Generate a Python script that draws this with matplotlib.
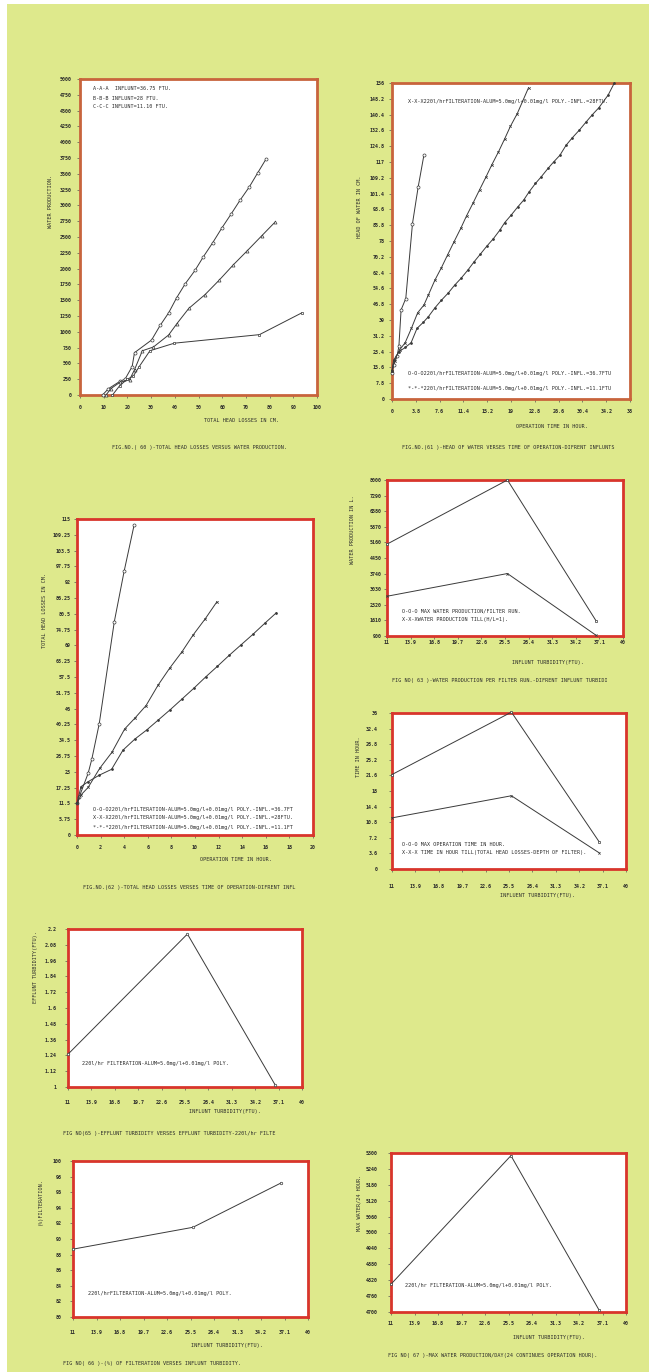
import numpy as np
import matplotlib
matplotlib.use('Agg')
import matplotlib.pyplot as plt
from matplotlib.patches import Rectangle

# --- fig 60: total head losses vs water production
hl_a = [9.5, 12, 17, 19, 22, 23, 30.2, 33.8, 37.4, 40.8, 44.4, 48.5, 52.1, 56, 59.8, 63.7, 67.5, 71.4, 74.9, 78.6]
wp_a = [0, 100, 220, 250, 450, 670, 870, 1100, 1300, 1540, 1760, 1970, 2190, 2410, 2640, 2860, 3080, 3290, 3510, 3740]
hl_b = [11, 13, 16.8, 20.9, 23, 26.3, 31, 37.4, 40.9, 45.9, 52.8, 58.8, 64.7, 70.5, 76.7, 82.4]
wp_b = [0, 100, 200, 240, 400, 700, 760, 950, 1130, 1370, 1590, 1820, 2060, 2280, 2520, 2740]
hl_c = [13.7, 16.8, 20, 22.5, 25, 29.5, 39.8, 75.7, 93.6]
wp_c = [0, 150, 250, 300, 450, 700, 820, 955, 1300]

# --- fig 61: head of water vs operation time
t61_1 = [0, 0.3, 0.8, 1.1, 1.45, 2.2, 3.27, 4.18, 5.09]
h61_1 = [13, 17, 21, 26, 44, 49.6, 86.6, 104.7, 120.3]
t61_2 = [0, 0.4, 1.2, 2.1, 3.1, 4.1, 5.1, 5.8, 6.85, 7.9, 8.9, 9.9, 10.97, 11.9, 12.95, 14.0, 15.0,
         15.95, 17.0, 18.0, 18.9, 20.0, 21.8]
h61_2 = [14, 19, 24.2, 27.8, 34.9, 42.6, 46.4, 51.3, 58.7, 64.9, 71.3, 77.6, 84.2, 90.4, 96.8, 103.4, 109.6,
         115.7, 122, 128.5, 134.6, 140.9, 153.7]
t61_3 = [0, 0.27, 1.08, 2.14, 3.05, 4.0, 4.98, 5.8, 6.85, 7.9, 9.0, 10.0, 11.0, 12.1, 13.1, 14.1, 15.15, 16.2,
         17.2, 18.0, 19.0, 20.1, 21.0, 21.9, 22.9, 23.8, 24.9, 25.8, 26.8, 27.8, 28.8, 29.9, 31.0, 32.0, 33.0,
         34.5, 35.5]
h61_3 = [14, 19.2, 23.3, 25.5, 27.8, 34.9, 37.8, 40.6, 45, 48.8, 52.4, 56.2, 59.5, 63.6, 67.7, 71.5, 75.5, 79.2,
         83.3, 87.1, 90.7, 94.9, 98.1, 102.3, 106.4, 109.6, 113.8, 117, 120.3, 125.3, 129, 132.7, 136.8, 140.4,
         143.7, 150, 156]

# --- fig 62: total head losses vs operation time
t62_1 = [0, 0.2, 0.94, 1.25, 1.88, 3.16, 4.0, 4.84]
h62_1 = [11.5, 14, 22.4, 27.5, 40.4, 77.6, 96.1, 112.8]
t62_2 = [0, 0.34, 0.94, 1.93, 2.96, 4.04, 4.9, 5.85, 6.88, 7.85, 8.9, 9.84, 10.87, 11.86]
h62_2 = [11.5, 14.6, 17.3, 24.3, 30.1, 38.6, 42.5, 47.1, 54.6, 60.7, 66.7, 72.8, 78.7, 84.9]
t62_3 = [0, 0.34, 0.94, 1.9, 2.93, 3.9, 4.9, 5.9, 6.9, 7.9, 8.9, 9.9, 10.9, 11.9, 12.9, 13.9, 14.9, 15.9, 16.9]
h62_3 = [11.5, 17.6, 19.4, 21.8, 23.9, 30.9, 34.9, 38.2, 41.9, 45.6, 49.5, 53.4, 57.5, 61.4, 65.4, 69.2, 73, 77, 80.9]

# --- figs 63-67: against influent turbidity
turb = [11, 25.8, 36.7]
wp_max = [5081, 8000, 1584]
wp_hl1 = [2709, 3743, 930]
op_max = [21.8, 36.2, 6.2]
op_hl = [11.8, 16.9, 3.7]
eff_turb = [1.249, 2.162, 1.013]
pct_filt = [88.7, 91.5, 97.2]
max_day = [4805, 5290, 4706]

# tick values
turb_ticks = np.round(np.linspace(11, 40, 11), 1)
ticks60_x = np.arange(0, 101, 10)
ticks60_y = np.arange(0, 5001, 250)
ticks61_x = np.round(np.linspace(0, 38, 11), 1)
ticks61_y = np.round(np.linspace(0, 156, 21), 1)
ticks62_x = np.arange(0, 21, 2)
ticks62_y = np.round(np.linspace(0, 115, 21), 2)
ticks63_y = np.arange(900, 8001, 710)
ticks64_y = np.round(np.linspace(0, 36, 11), 1)
ticks65_y = np.round(np.linspace(1, 2.2, 11), 2)
ticks66_y = np.arange(80, 101, 2)
ticks67_y = np.arange(4700, 5301, 60)

W, H = 649, 1372
MONO = 'DejaVu Sans Mono'
INK = '#2a2a2a'
LINE = '#3a3a3a'
BG = '#dee98c'
PT = 72 / 100  # points per pixel

fig = plt.figure(figsize=(W / 100, H / 100), dpi=100)
fig.patch.set_facecolor('white')
fig.patches.append(Rectangle((7 / W, 0), 1, 1 - 4 / H, transform=fig.transFigure,
                             facecolor=BG, edgecolor='none', zorder=-10))


def panel(box, xt, yt, xgap=11.7, ygap=8, frame='#d8352c'):
    # xgap: px from frame to centre of x tick labels, ygap: px from frame to y tick labels
    l, t, r, b = box
    ax = fig.add_axes([l / W, 1 - b / H, (r - l) / W, (b - t) / H])
    ax.set_facecolor('white')
    for s in ax.spines.values():
        s.set_color(frame)
        s.set_linewidth(2.0)
    ax.set_xlim(xt[0], xt[-1])
    ax.set_ylim(yt[0], yt[-1])
    ax.set_xticks(xt)
    ax.set_yticks(yt)
    ax.set_xticklabels([f'{v:g}' for v in xt])
    ax.set_yticklabels([f'{v:g}' for v in yt])
    ax.tick_params(direction='out', length=2, width=0.5, color='#555', labelcolor=INK)
    ax.tick_params(axis='x', pad=max(0, (xgap - 2) * PT - 2))
    ax.tick_params(axis='y', pad=max(0, ygap * PT - 2))
    for lab in ax.get_xticklabels() + ax.get_yticklabels():
        lab.set_fontfamily(MONO)
        lab.set_fontsize(3.6)
        lab.set_fontweight('bold')
    return ax


def ftxt(x, y, s, **kw):
    kw.setdefault('ha', 'left')
    fig.text(x / W, 1 - y / H, s, fontsize=3.7, family=MONO, color=INK, va='center', **kw)


def atxt(ax, box, x, y, s):
    l, t, r, b = box
    ax.text((x - l) / (r - l), (b - y) / (b - t), s, transform=ax.transAxes, clip_on=True,
            fontsize=3.7, family=MONO, color=INK, va='center', ha='left')


def draw(ax, x, y, marker, ms=2.2, mfc='white'):
    ax.plot(x, y, color=LINE, lw=0.7, marker=marker, ms=ms, mfc=mfc, mec=LINE, mew=0.5, clip_on=False, zorder=3)


# fig 60
b60 = (80, 79, 317, 395)
ax = panel(b60, ticks60_x, ticks60_y, 11.7, 8, frame='#c8643c')
draw(ax, hl_a, wp_a, 'o')
draw(ax, hl_b, wp_b, '^')
draw(ax, hl_c, wp_c, 's', ms=1.6)
atxt(ax, b60, 93, 89, 'A-A-A  INFLUNT=36.75 FTU.')
atxt(ax, b60, 93, 98, 'B-B-B INFLUNT=28 FTU.')
atxt(ax, b60, 93, 106, 'C-C-C INFLUNT=11.10 FTU.')
ftxt(51, 201, 'WATER PRODUCTION.', rotation=90, ha='center')
ftxt(241, 420, 'TOTAL HEAD LOSSES IN CM.', ha='center')
ftxt(112, 448, 'FIG.NO.( 60 )-TOTAL HEAD LOSSES VERSUS WATER PRODUCTION.')

# fig 61
b61 = (392, 83, 630, 399)
ax = panel(b61, ticks61_x, ticks61_y, 11.7, 7, frame='#c8643c')
draw(ax, t61_1, h61_1, 'o')
draw(ax, t61_2, h61_2, 'x', ms=1.8)
draw(ax, t61_3, h61_3, 'o', ms=1.4, mfc=LINE)
atxt(ax, b61, 408, 102, 'X-X-X220l/hrFILTERATION-ALUM=5.0mg/l+0.01mg/l POLY.-INFL.=28FTU.')
atxt(ax, b61, 408, 373, 'O-O-O220l/hrFILTERATION-ALUM=5.0mg/l+0.01mg/l POLY.-INFL.=36.7FTU')
atxt(ax, b61, 408, 388, '*-*-*220l/hrFILTERATION-ALUM=5.0mg/l+0.01mg/l POLY.-INFL.=11.1FTU')
ftxt(360, 207, 'HEAD OF WATER IN CM.', rotation=90, ha='center')
ftxt(552, 426, 'OPERATION TIME IN HOUR.', ha='center')
ftxt(402, 448, 'FIG.NO.(61 )-HEAD OF WATER VERSES TIME OF OPERATION-DIFRENT INFLUNTS')

# fig 62
b62 = (77, 519, 313, 835)
ax = panel(b62, ticks62_x, ticks62_y, 11.7, 6)
draw(ax, t62_1, h62_1, 'o')
draw(ax, t62_2, h62_2, 'x', ms=1.8)
draw(ax, t62_3, h62_3, 'o', ms=1.4, mfc=LINE)
atxt(ax, b62, 93, 810, 'O-O-O220l/hrFILTERATION-ALUM=5.0mg/l+0.01mg/l POLY.-INFL.=36.7FT')
atxt(ax, b62, 93, 818, 'X-X-X220l/hrFILTERATION-ALUM=5.0mg/l+0.01mg/l POLY.-INFL.=28FTU.')
atxt(ax, b62, 93, 827, '*-*-*220l/hrFILTERATION-ALUM=5.0mg/l+0.01mg/l POLY.-INFL.=11.1FT')
ftxt(45, 611, 'TOTAL HEAD LOSSES IN CM.', rotation=90, ha='center')
ftxt(236, 860, 'OPERATION TIME IN HOUR.', ha='center')
ftxt(83, 888, 'FIG.NO.(62 )-TOTAL HEAD LOSSES VERSES TIME OF OPERATION-DIFRENT INFL')

# fig 63
b63 = (387, 480, 623, 636)
ax = panel(b63, turb_ticks, ticks63_y, 6, 5)
draw(ax, turb, wp_max, 's', ms=1.8)
draw(ax, turb, wp_hl1, 'x', ms=1.6)
atxt(ax, b63, 402, 611, 'O-O-O MAX WATER PRODUCTION/FILTER RUN.')
atxt(ax, b63, 402, 620, 'X-X-XWATER PRODUCTION TILL(H/L=1).')
ftxt(352, 530, 'WATER PRODUCTION IN L.', rotation=90, ha='center')
ftxt(548, 662, 'INFLUNT TURBIDITY(FTU).', ha='center')
ftxt(392, 680, 'FIG NO( 63 )-WATER PRODUCTION PER FILTER RUN.-DIFRENT INFLUNT TURBIDI')

# fig 64
b64 = (392, 713, 626, 869)
ax = panel(b64, turb_ticks, ticks64_y, 16.7, 14)
draw(ax, turb, op_max, 's', ms=1.8)
draw(ax, turb, op_hl, 'x', ms=1.6)
atxt(ax, b64, 402, 845, 'O-O-O MAX OPERATION TIME IN HOUR.')
atxt(ax, b64, 402, 853, 'X-X-X TIME IN HOUR TILL(TOTAL HEAD LOSSES-DEPTH OF FILTER).')
ftxt(358, 757, 'TIME IN HOUR.', rotation=90, ha='center')
ftxt(538, 896, 'INFLUENT TURBIDITY(FTU).', ha='center')

# fig 65
b65 = (68, 929, 302, 1087)
ax = panel(b65, turb_ticks, ticks65_y, 15, 11)
draw(ax, turb, eff_turb, 'o', ms=1.8)
atxt(ax, b65, 82, 1063, '220l/hr FILTERATION-ALUM=5.0mg/l+0.01mg/l POLY.')
ftxt(35, 967, 'EFFLUNT TURBIDITY(FTU).', rotation=90, ha='center')
ftxt(225, 1111, 'INFLUNT TURBIDITY(FTU).', ha='center')
ftxt(63, 1134, 'FIG NO(65 )-EFFLUNT TURBIDITY VERSES EFFLUNT TURBIDITY-220l/hr FILTE')

# fig 66
b66 = (73, 1161, 308, 1317)
ax = panel(b66, turb_ticks, ticks66_y, 15, 11)
draw(ax, turb, pct_filt, 'o', ms=1.8)
atxt(ax, b66, 88, 1293, '220l/hrFILTERATION-ALUM=5.0mg/l+0.01mg/l POLY.')
ftxt(40, 1202, '(%)FILTERATION.', rotation=90, ha='center')
ftxt(227, 1345, 'INFLUNT TURBIDITY(FTU).', ha='center')
ftxt(63, 1364, 'FIG NO( 66 )-(%) OF FILTERATION VERSES INFLUNT TURBIDITY.')

# fig 67
b67 = (391, 1153, 626, 1312)
ax = panel(b67, turb_ticks, ticks67_y, 11, 13)
draw(ax, turb, max_day, 's', ms=1.6)
atxt(ax, b67, 405, 1285, '220l/hr FILTERATION-ALUM=5.0mg/l+0.01mg/l POLY.')
ftxt(359, 1203, 'MAX WATER/24 HOUR.', rotation=90, ha='center')
ftxt(549, 1337, 'INFLUNT TURBIDITY(FTU).', ha='center')
ftxt(388, 1355, 'FIG NO( 67 )-MAX WATER PRODUCTION/DAY(24 CONTINUES OPERATION HOUR).')

fig.savefig('out.png', dpi=100, facecolor=fig.get_facecolor())
